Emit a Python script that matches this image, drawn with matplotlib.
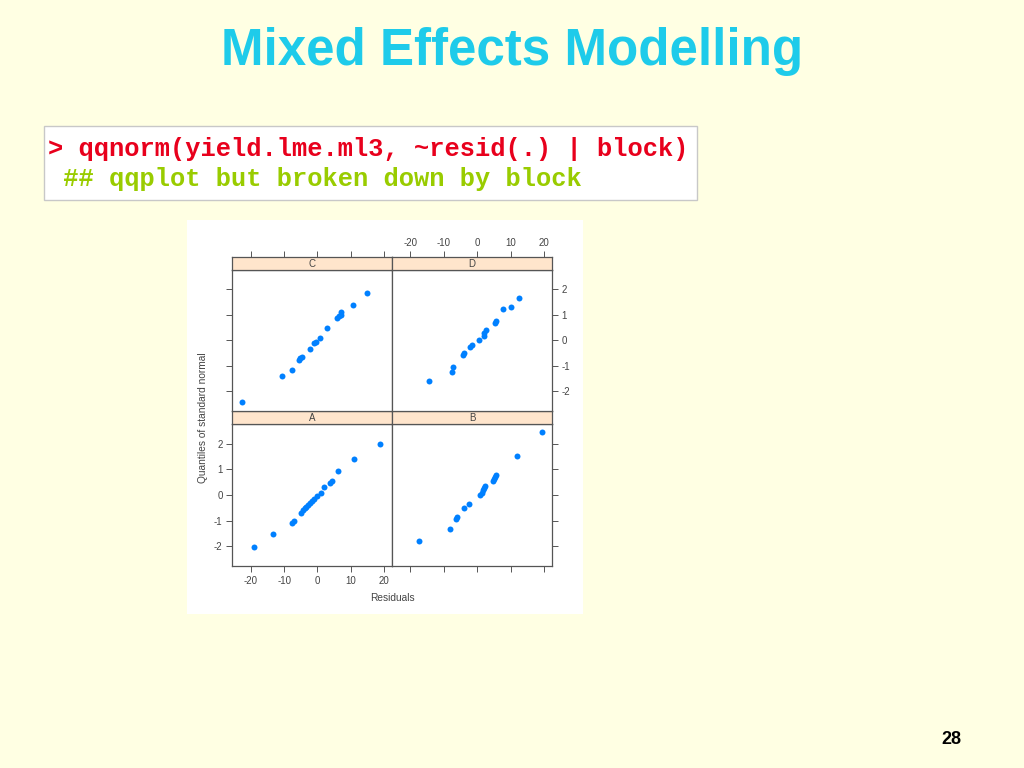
import matplotlib.pyplot as plt
from matplotlib.patches import Rectangle

plt.rcParams['axes.unicode_minus'] = False
plt.rcParams['font.family'] = ['Liberation Sans', 'DejaVu Sans']

# residuals (x) and standard normal quantiles (y) per block
block_names = ['A', 'B', 'C', 'D']

resid_A = [-19.0, -13.3, -7.6, -7.0, -4.9, -4.3, -3.8, -3.3, -2.8, -2.2, -1.6, -1.0,
           0.0, 1.1, 2.1, 3.8, 4.3, 6.2, 10.8, 18.7]
quant_A = [-2.02, -1.52, -1.09, -1.00, -0.69, -0.60, -0.52, -0.45, -0.38, -0.30, -0.22, -0.14,
           -0.04, 0.09, 0.31, 0.48, 0.53, 0.94, 1.42, 2.00]

resid_B = [-17.4, -8.1, -6.4, -5.9, -3.8, -2.4, 0.9, 1.4, 1.8, 2.1, 2.3,
           4.7, 5.1, 5.4, 5.6, 11.9, 19.4]
quant_B = [-1.81, -1.34, -0.94, -0.84, -0.50, -0.34, 0.00, 0.09, 0.20, 0.29, 0.37,
           0.55, 0.63, 0.72, 0.79, 1.52, 2.45]

resid_C = [-22.7, -10.6, -7.5, -5.6, -5.2, -4.5, -2.3, -1.0, -0.5, 0.9, 2.9,
           5.9, 6.4, 6.9, 7.1, 10.6, 14.8]
quant_C = [-2.43, -1.39, -1.17, -0.76, -0.71, -0.64, -0.36, -0.11, -0.05, 0.08, 0.47,
           0.87, 0.95, 1.01, 1.12, 1.37, 1.86]

resid_D = [-14.3, -7.6, -7.2, -4.3, -3.9, -2.2, -1.6, 0.5, 1.9, 2.1, 2.5,
           5.4, 5.6, 7.7, 10.1, 12.4]
quant_D = [-1.62, -1.24, -1.04, -0.58, -0.51, -0.28, -0.18, 0.00, 0.18, 0.29, 0.42,
           0.67, 0.76, 1.21, 1.29, 1.67]

x_ticks = [-20, -10, 0, 10, 20]
y_ticks = [-2, -1, 0, 1, 2]

W, H = 1024, 768
BG = '#FFFFE3'
DOT = '#0080FF'
STRIP = '#FFE5CC'
EDGE = '#555555'
TXT = '#444444'
XLIM = (-25.5, 22.4)
YLIM = (-2.78, 2.76)


def fx(px):
    return px / W


def fy(py):
    return 1 - py / H


fig = plt.figure(figsize=(10.24, 7.68), dpi=100)
fig.patch.set_facecolor(BG)

# slide title and code box
fig.text(fx(512), fy(51), 'Mixed Effects Modelling', ha='center', va='center',
         fontsize=36.8, fontweight='bold', color='#1ECBEA', family='Liberation Sans')
fig.patches.append(Rectangle((fx(44), fy(200)), fx(697) - fx(44), fy(126) - fy(200),
                             transform=fig.transFigure, facecolor='white',
                             edgecolor='#C8C8C8', linewidth=1, zorder=-10))
fig.text(fx(48), fy(149), '> qqnorm(yield.lme.ml3, ~resid(.) | block)', ha='left', va='center',
         fontsize=18.3, fontweight='bold', color='#E8001C', family='Liberation Mono')
fig.text(fx(48), fy(179), ' ## qqplot but broken down by block', ha='left', va='center',
         fontsize=18.3, fontweight='bold', color='#99CC00', family='Liberation Mono')
fig.text(fx(951), fy(740), '28', ha='center', va='center', fontsize=13,
         fontweight='bold', color='black', family='Liberation Sans')

# white background of the lattice picture
fig.patches.append(Rectangle((fx(187), fy(614)), fx(583) - fx(187), fy(220) - fy(614),
                             transform=fig.transFigure, facecolor='white',
                             edgecolor='none', zorder=-10))

col_left = {0: 232.3, 1: 392.0}
panel_w = 160.0
rows = {0: (270.0, 411.0, 257.3), 1: (424.3, 566.3, 411.0)}  # panel top, panel bottom, strip top
layout = {'C': (0, 0), 'D': (0, 1), 'A': (1, 0), 'B': (1, 1)}
data = {'A': (resid_A, quant_A), 'B': (resid_B, quant_B),
        'C': (resid_C, quant_C), 'D': (resid_D, quant_D)}


def style_ticks(ax):
    ax.tick_params(direction='out', length=4.5, width=0.7, color=EDGE,
                   labelsize=7, labelcolor=TXT, pad=2.5)
    for sp in ax.spines.values():
        sp.set_color(EDGE)
        sp.set_linewidth(0.9)


for name in block_names:
    r, c = layout[name]
    top, bot, strip_top = rows[r]
    left = col_left[c]
    ax = fig.add_axes([fx(left), fy(bot), panel_w / W, (bot - top) / H])
    ax.set_facecolor('white')
    x, y = data[name]
    ax.plot(x, y, 'o', color=DOT, markersize=4.3, markeredgewidth=0)
    ax.set_xlim(XLIM)
    ax.set_ylim(YLIM)
    ax.set_xticks(x_ticks)
    ax.set_yticks(y_ticks)
    style_ticks(ax)

    # y axis: left column on the left, right column on the right
    if c == 0:
        ax.yaxis.tick_left()
        ax.tick_params(axis='y', labelleft=(r == 1))
    else:
        ax.yaxis.tick_right()
        ax.tick_params(axis='y', labelright=(r == 0))

    # x axis: bottom row carries bottom ticks, top row gets them on the strip
    if r == 1:
        ax.xaxis.tick_bottom()
        ax.tick_params(axis='x', labelbottom=(c == 0))
    else:
        ax.tick_params(axis='x', bottom=False, labelbottom=False)

    sax = fig.add_axes([fx(left), fy(top), panel_w / W, (top - strip_top) / H])
    sax.set_facecolor(STRIP)
    sax.set_xlim(XLIM)
    sax.set_yticks([])
    style_ticks(sax)
    sax.text(0.5, 0.5, name, transform=sax.transAxes, ha='center', va='center',
             fontsize=7, color=TXT)
    if r == 0:
        sax.set_xticks(x_ticks)
        sax.xaxis.tick_top()
        sax.tick_params(axis='x', labeltop=(c == 1))
    else:
        sax.set_xticks([])

fig.text(fx(392), fy(598), 'Residuals', ha='center', va='center', fontsize=7.3,
         color=TXT)
fig.text(fx(203), fy(418), 'Quantiles of standard normal', ha='center', va='center',
         rotation=90, fontsize=7.3, color=TXT)

fig.savefig('out.png', dpi=100, facecolor=BG)
